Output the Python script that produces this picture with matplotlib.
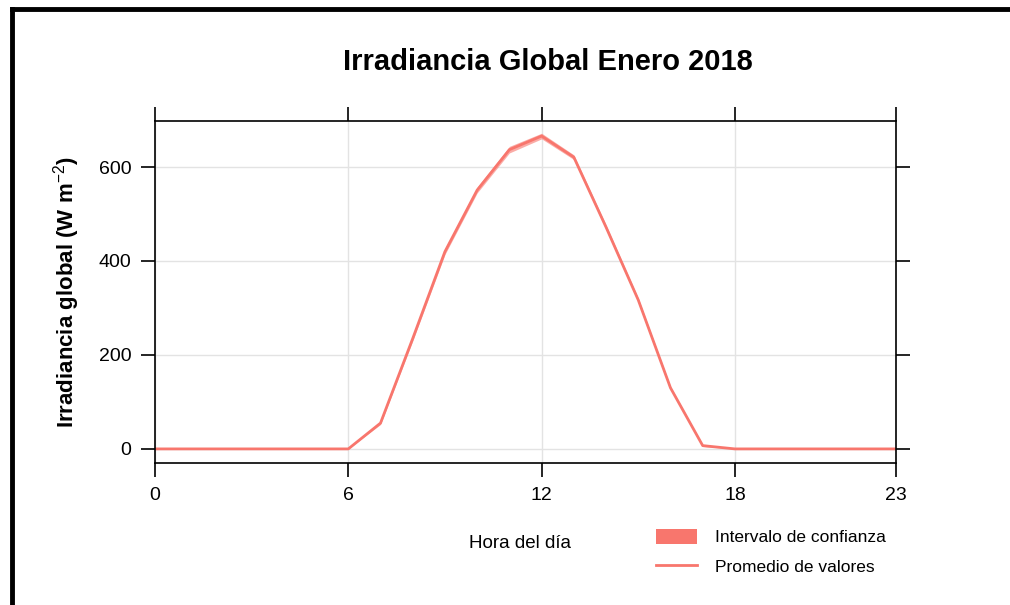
#!/usr/bin/env python3
"""Irradiancia global horaria, enero 2018 (promedio e intervalo de confianza)."""

import matplotlib
matplotlib.use("Agg")
import matplotlib.pyplot as plt
from matplotlib.lines import Line2D
from matplotlib.patches import Patch

plt.rcParams["font.family"] = ["Liberation Sans", "DejaVu Sans"]
plt.rcParams["mathtext.fontset"] = "custom"
plt.rcParams["mathtext.rm"] = "Liberation Sans"
plt.rcParams["mathtext.it"] = "Liberation Sans:italic"
plt.rcParams["mathtext.bf"] = "Liberation Sans:bold"

# ------------------------------------------------------------------ #
# data
# ------------------------------------------------------------------ #
hours = list(range(24))
mean_irr = [0, 0, 0, 0, 0, 0, 0, 55, 235, 420, 551, 637, 666, 621,
            472, 317, 130, 7, 0, 0, 0, 0, 0, 0]
ci_low = [0, 0, 0, 0, 0, 0, 0, 52, 230, 414, 545, 630, 660, 616,
          467, 313, 127, 5, 0, 0, 0, 0, 0, 0]
ci_high = [0, 0, 0, 0, 0, 0, 1, 58, 240, 426, 557, 644, 672, 626,
           477, 321, 133, 9, 1, 0, 0, 0, 0, 0]
x_ticks = [0, 6, 12, 18, 23]
y_ticks = [0, 200, 400, 600]

RED = "#F8766D"

# ------------------------------------------------------------------ #
# plot
# ------------------------------------------------------------------ #
fig = plt.figure(figsize=(10.1, 6.05), dpi=100)
ax = fig.add_axes([155 / 1010, 1 - 463 / 605, 741 / 1010, 342 / 605])

ax.fill_between(hours, ci_low, ci_high, color=RED, alpha=0.6, linewidth=0)
ax.plot(hours, mean_irr, color=RED, linewidth=2)

ax.set_xlim(0, 23)
ax.set_ylim(-30, 698)
ax.set_xticks(x_ticks)
ax.set_yticks(y_ticks)
ax.grid(color="#e3e3e3", linewidth=1)
ax.set_axisbelow(True)
ax.tick_params(direction="out", length=10, width=1.2, labelsize=14,
               top=True, right=True, pad=7)
for sp in ax.spines.values():
    sp.set_linewidth(1.2)

ax.set_ylabel(r"Irradiancia global (W m$^{-2}$)", fontsize=16,
              fontweight="bold", labelpad=12)
fig.text(548 / 1010, 1 - 62 / 605, "Irradiancia Global Enero 2018",
         ha="center", va="center", fontsize=21, fontweight="bold")
fig.text(520 / 1010, 1 - 543 / 605, "Hora del día", ha="center",
         va="center", fontsize=13.5)

handles = [Patch(facecolor=RED, edgecolor="none"),
           Line2D([0], [0], color=RED, linewidth=2)]
fig.legend(handles, ["Intervalo de confianza", "Promedio de valores"],
           loc="center left", bbox_to_anchor=(640 / 1010, 1 - 552 / 605),
           frameon=False, fontsize=12.5, handlelength=2.4, handleheight=0.9,
           labelspacing=0.75, handletextpad=1.0)

# outer frame (left and top edges only)
fig.add_artist(Line2D([12 / 1010, 12 / 1010], [0, 1 - 9 / 605],
                      transform=fig.transFigure, color="black", linewidth=3.5))
fig.add_artist(Line2D([12 / 1010, 1], [1 - 9 / 605, 1 - 9 / 605],
                      transform=fig.transFigure, color="black", linewidth=3.5))

fig.savefig("out.png", dpi=100)
